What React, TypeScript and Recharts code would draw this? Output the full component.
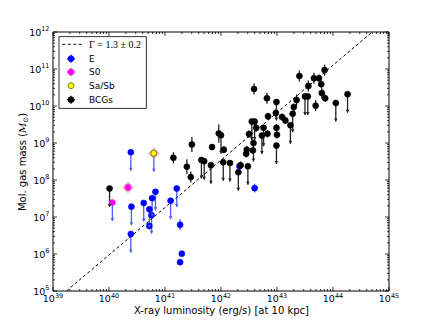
import React from 'react';
import { ScatterChart, Scatter, XAxis, YAxis, ErrorBar } from 'recharts';

// all values are log10
// E galaxies
const eLogL = [40.39, 40.40, 40.39, 40.62, 40.72, 40.76, 40.72, 40.77, 40.83, 41.10, 41.21, 41.27, 41.30, 41.27, 42.33, 42.60];
const eLogM = [8.75, 7.28, 6.54, 7.38, 7.21, 7.05, 6.76, 7.51, 7.68, 7.44, 7.77, 6.79, 6.01, 5.78, 8.37, 7.78];
const eLimit = [1, 1, 1, 1, 1, 1, 0, 1, 1, 1, 1, 0, 0, 0, 0, 0];
const eErr = [0, 0, 0, 0, 0, 0, 0.1, 0, 0, 0, 0, 0.15, 0, 0, 0.1, 0.12];

// S0
const s0LogL = [40.34, 40.06];
const s0LogM = [7.80, 7.39];
const s0Limit = [0, 1];
const s0Err = [0.1, 0];
const s0Halo = [1, 0];

// Sa/Sb
const saLogL = [40.80];
const saLogM = [8.72];
const saLimit = [1];
const saErr = [0];
const saHalo = [1];

// BCGs
const bLogL = [
  40.01, 41.15, 41.48, 41.39, 41.46, 41.65, 41.70, 41.82, 41.84, 41.96, 42.00, 42.05, 42.04, 42.16,
  42.31, 42.35, 42.48, 42.46, 42.45, 42.57, 42.58, 42.50, 42.55, 42.60, 42.59, 42.63, 42.73, 42.76,
  42.82, 42.83, 42.84, 42.99, 42.98, 42.99, 43.00, 42.99, 43.09, 43.15, 43.24, 43.28, 43.30, 43.35,
  43.40, 43.50, 43.55, 43.56, 43.66, 43.75, 43.79, 43.80, 43.86, 43.69, 43.85, 44.05, 44.26,
];
const bLogM = [
  7.77, 8.60, 8.96, 8.36, 8.08, 8.54, 8.51, 8.40, 8.89, 9.26, 9.21, 8.82, 8.48, 8.46,
  8.21, 8.40, 8.37, 8.82, 8.71, 8.80, 9.00, 9.24, 9.58, 9.58, 10.46, 9.41, 9.20, 9.41,
  10.21, 9.25, 9.72, 10.11, 9.81, 9.41, 9.22, 8.93, 9.70, 9.61, 9.48, 9.79, 9.97, 10.16,
  10.81, 10.26, 10.26, 10.54, 10.75, 10.75, 10.59, 10.35, 10.21, 10.01, 10.97, 10.08, 10.32,
];
const bLimit = [
  1, 0, 0, 0, 0, 1, 1, 1, 0, 0, 1, 0, 1, 1,
  1, 0, 1, 0, 0, 0, 1, 0, 1, 1, 0, 0, 1, 1,
  0, 0, 0, 1, 0, 0, 0, 1, 0, 0, 1, 1, 0, 0,
  0, 1, 1, 0, 0, 0, 0, 0, 0, 0, 0, 1, 1,
];
const bErr = [
  0, 0.15, 0.2, 0.2, 0.15, 0, 0, 0, 0, 0.25, 0, 0.1, 0, 0,
  0, 0.1, 0, 0.1, 0.1, 0.1, 0, 0.1, 0, 0, 0.15, 0.1, 0, 0,
  0.15, 0.1, 0.1, 0, 0.1, 0.1, 0.1, 0, 0.1, 0.1, 0, 0, 0.1, 0.15,
  0.15, 0, 0, 0.15, 0.15, 0.1, 0.1, 0.15, 0.1, 0.15, 0.15, 0, 0,
];

// dashed fit, Gamma = 1.3
const fitLogL = [39.24, 44.7];
const fitLogM = [5, 12];

const xDecades = [39, 40, 41, 42, 43, 44, 45];
const yDecades = [5, 6, 7, 8, 9, 10, 11, 12];

const LIMIT_DEX = 0.5;

type Pt = { x: number; y: number; lim: number; ey: number[]; halo: boolean };

const toPoints = (logL: number[], logM: number[], lim: number[], err: number[], halo: number[] = []): Pt[] =>
  logL.map((l, i) => {
    const y = Math.pow(10, logM[i]);
    const lo = lim[i] ? y / Math.pow(10, LIMIT_DEX) : y / Math.pow(10, err[i]);
    const hi = lim[i] ? y : y * Math.pow(10, err[i]);
    return { x: Math.pow(10, l), y, lim: lim[i], ey: [y - lo, hi - y], halo: !!halo[i] };
  });

const tips = (pts: Pt[]) =>
  pts.filter(p => p.lim).map(p => ({ x: p.x, y: p.y / Math.pow(10, LIMIT_DEX) }));

const ePts = toPoints(eLogL, eLogM, eLimit, eErr);
const s0Pts = toPoints(s0LogL, s0LogM, s0Limit, s0Err, s0Halo);
const saPts = toPoints(saLogL, saLogM, saLimit, saErr, saHalo);
const bPts = toPoints(bLogL, bLogM, bLimit, bErr);
const fitPts = fitLogL.map((l, i) => ({ x: Math.pow(10, l), y: Math.pow(10, fitLogM[i]) }));

const logTicks = (decades: number[]) => {
  const out: number[] = [];
  decades.forEach((d, i) => {
    if (i === decades.length - 1) out.push(Math.pow(10, d));
    else for (let m = 1; m < 10; m++) out.push(m * Math.pow(10, d));
  });
  return out;
};
const xTicks = logTicks(xDecades);
const yTicks = logTicks(yDecades);

const BLUE = '#0000ff';
const BLUE_BAR = '#4a5cff';
const FONT = 'DejaVu Sans, sans-serif';

const isMajor = (v: number) => Math.abs(Math.log10(v) - Math.round(Math.log10(v))) < 1e-6;

const LogTick = (props: any) => {
  const { x, y, payload, side } = props;
  const v = payload.value;
  const major = isMajor(v);
  const len = major ? 4 : 2;
  const e = Math.round(Math.log10(v));
  let line;
  if (side === 'bottom') line = <line x1={x} y1={y} x2={x} y2={y - len} />;
  else if (side === 'top') line = <line x1={x} y1={y} x2={x} y2={y + len} />;
  else if (side === 'left') line = <line x1={x} y1={y} x2={x + len} y2={y} />;
  else line = <line x1={x} y1={y} x2={x - len} y2={y} />;
  return (
    <g>
      <g stroke="#000" strokeWidth={0.8}>{line}</g>
      {major && side === 'bottom' && (
        <text x={x} y={y + 11} textAnchor="middle" fontFamily={FONT} fontSize={9.5} fill="#000">
          10<tspan dy={-4.5} fontSize={6.5}>{e}</tspan>
        </text>
      )}
      {major && side === 'left' && (
        <text x={x - 3.5} y={y + 3.5} textAnchor="end" fontFamily={FONT} fontSize={9.5} fill="#000">
          10<tspan dy={-4.5} fontSize={6.5}>{e}</tspan>
        </text>
      )}
    </g>
  );
};

const dot = (fill: string, stroke: string) => (p: any) => (
  <g>
    {p.payload && p.payload.halo ? (
      <g fill="#f08a8a" fillOpacity={0.6}>
        <path d={`M${p.cx - 6},${p.cy}L${p.cx},${p.cy - 6}L${p.cx + 6},${p.cy}L${p.cx},${p.cy + 6}Z`} />
      </g>
    ) : null}
    <circle cx={p.cx} cy={p.cy} r={3} fill={fill} stroke={stroke} strokeWidth={0.6} />
  </g>
);

const arrowHead = (fill: string) => (p: any) => (
  <path d={`M${p.cx - 1.8},${p.cy - 3}L${p.cx + 1.8},${p.cy - 3}L${p.cx},${p.cy}Z`} fill={fill} />
);

const noShape = () => <g />;

const LegendRow = ({ y, color, edge, label }: { y: number; color: string; edge: string; label: string }) => (
  <g>
    <line x1={67} y1={y} x2={75} y2={y} stroke={color} strokeWidth={1.2} />
    <line x1={71} y1={y - 4} x2={71} y2={y + 4} stroke={color} strokeWidth={1.2} />
    <circle cx={71} cy={y} r={3} fill={color} stroke={edge} strokeWidth={0.6} />
    <text x={89} y={y + 3.3} fontFamily={FONT} fontSize={9} fill="#000">{label}</text>
  </g>
);

const App = () => {
  return (
    <div style={{ position: 'absolute', left: 0, top: 0, width: 432, height: 324, background: '#fff' }}>
      <ScatterChart width={432} height={324} margin={{ top: 31, right: 42, bottom: 13, left: 13 }}>
        <XAxis
          dataKey="x" type="number" scale="log" domain={[1e39, 1e45]} allowDataOverflow
          ticks={xTicks} interval={0} height={20} tickSize={0} tickMargin={0}
          axisLine={{ stroke: '#000', strokeWidth: 1 }} tickLine={false}
          tick={(p: any) => <LogTick {...p} side="bottom" />}
        />
        <XAxis
          xAxisId="top" orientation="top" dataKey="x" type="number" scale="log" domain={[1e39, 1e45]} allowDataOverflow
          ticks={xTicks} interval={0} height={1} tickSize={0} tickMargin={0}
          axisLine={{ stroke: '#000', strokeWidth: 1 }} tickLine={false}
          tick={(p: any) => <LogTick {...p} side="top" />}
        />
        <YAxis
          dataKey="y" type="number" scale="log" domain={[1e5, 1e12]} allowDataOverflow
          ticks={yTicks} interval={0} width={40} tickSize={0} tickMargin={0}
          axisLine={{ stroke: '#000', strokeWidth: 1 }} tickLine={false}
          tick={(p: any) => <LogTick {...p} side="left" />}
        />
        <YAxis
          yAxisId="right" orientation="right" dataKey="y" type="number" scale="log" domain={[1e5, 1e12]} allowDataOverflow
          ticks={yTicks} interval={0} width={1} tickSize={0} tickMargin={0}
          axisLine={{ stroke: '#000', strokeWidth: 1 }} tickLine={false}
          tick={(p: any) => <LogTick {...p} side="right" />}
        />

        <Scatter data={fitPts} shape={noShape} line={{ stroke: '#000', strokeWidth: 1, strokeDasharray: '3 2.5' }} isAnimationActive={false} />

        <Scatter data={ePts} shape={dot(BLUE, BLUE)} isAnimationActive={false}>
          <ErrorBar dataKey="ey" direction="y" width={0} stroke={BLUE_BAR} strokeWidth={1.3} isAnimationActive={false} />
        </Scatter>
        <Scatter data={tips(ePts)} shape={arrowHead(BLUE_BAR)} isAnimationActive={false} />

        <Scatter data={s0Pts} shape={dot('#ff00ff', '#ff00ff')} isAnimationActive={false}>
          <ErrorBar dataKey="ey" direction="y" width={0} stroke={BLUE_BAR} strokeWidth={1.3} isAnimationActive={false} />
        </Scatter>
        <Scatter data={tips(s0Pts)} shape={arrowHead(BLUE_BAR)} isAnimationActive={false} />

        <Scatter data={saPts} shape={dot('#ffff00', '#333')} isAnimationActive={false}>
          <ErrorBar dataKey="ey" direction="y" width={0} stroke={BLUE_BAR} strokeWidth={1.3} isAnimationActive={false} />
        </Scatter>
        <Scatter data={tips(saPts)} shape={arrowHead(BLUE_BAR)} isAnimationActive={false} />

        <Scatter data={bPts} shape={dot('#000', '#000')} isAnimationActive={false}>
          <ErrorBar dataKey="ey" direction="y" width={0} stroke="#222" strokeWidth={1.3} isAnimationActive={false} />
        </Scatter>
        <Scatter data={tips(bPts)} shape={arrowHead('#222')} isAnimationActive={false} />
      </ScatterChart>

      <svg width={432} height={324} style={{ position: 'absolute', left: 0, top: 0, pointerEvents: 'none' }}>
        <rect x={59} y={36.7} width={87.3} height={71.6} fill="#fff" stroke="#000" strokeWidth={0.8} />
        <line x1={62.3} y1={44.3} x2={81.7} y2={44.3} stroke="#000" strokeWidth={1} strokeDasharray="3 2.5" />
        <text x={89} y={47.8} fontFamily="Liberation Serif, serif" fontSize={10} fill="#000">
          Γ = 1.3 ± 0.2
        </text>
        <LegendRow y={58.7} color={BLUE} edge={BLUE} label="E" />
        <LegendRow y={72} color="#ff00ff" edge="#ff00ff" label="S0" />
        <LegendRow y={85.7} color="#ffff00" edge="#333" label="Sa/Sb" />
        <LegendRow y={99.7} color="#000" edge="#000" label="BCGs" />

        <text x={221.5} y={313.5} textAnchor="middle" fontFamily={FONT} fontSize={10} fill="#000">
          X-ray luminosity (erg/s) [at 10 kpc]
        </text>
        <text x={26} y={162} textAnchor="middle" fontFamily={FONT} fontSize={10} fill="#000" transform="rotate(-90 26 162)">
          Mol. gas mass (<tspan fontStyle="italic" fontFamily="DejaVu Serif, serif">M</tspan>
          <tspan dy={2} fontSize={7}>⊙</tspan>
          <tspan dy={-2}>)</tspan>
        </text>
      </svg>
    </div>
  );
};

export default App;
